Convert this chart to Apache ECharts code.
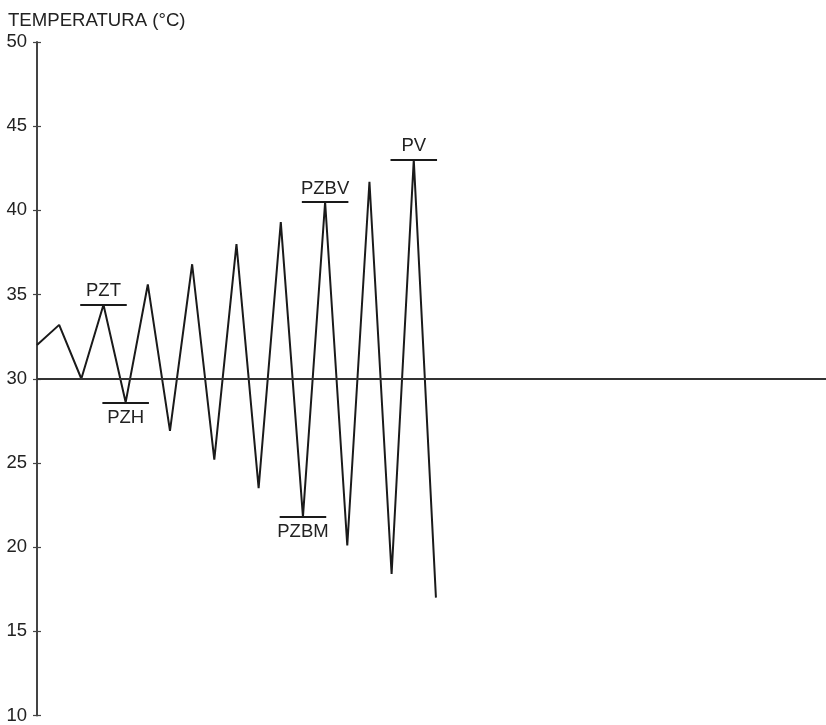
<!DOCTYPE html>
<html><head><meta charset="utf-8">
<script src="https://cdn.jsdelivr.net/npm/echarts@6/dist/echarts.min.js"></script>
<style>html,body{margin:0;padding:0;background:#fff}#c{width:826px;height:725px}</style>
</head><body><div id="c"></div>
<script>
// measurement index (0..18) and temperature (°C)
const steps = [0,1,2,3,4,5,6,7,8,9,10,11,12,13,14,15,16,17,18];
const temps = [32.0,33.2,30.0,34.4,28.6,35.6,26.9,36.8,25.2,38.0,23.5,39.3,21.8,40.5,20.1,41.7,18.4,43.0,17.0];
const yTicks = [10,15,20,25,30,35,40,45,50];
const refTemp = 30;
// annotated points: label, step index, above (peak) or below (trough)
const markNames = ['PZT','PZH','PZBM','PZBV','PV'];
const markSteps = [3,4,12,13,17];
const markSide = ['top','bottom','bottom','top','top'];

const chart = echarts.init(document.getElementById('c'));
const font = '"Liberation Sans", Arial, sans-serif';
const markData = markNames.map((n,k)=>{
  const i = markSteps[k];
  const top = markSide[k]==='top';
  return [
    {coord:[i-1.05, temps[i]], label:{show:true, formatter:n, position: top?'insideMiddleTop':'insideMiddleBottom', distance: top?4:6}},
    {coord:[i+1.05, temps[i]]}
  ];
});
const yAxisBase = {
  type:'value', min:10, max:50, interval:5,
  splitLine:{show:false}
};
chart.setOption({
  animation:false,
  title:{text:'TEMPERATURA (°C)', left:3, top:6, textStyle:{fontFamily:font, fontSize:18.6, fontWeight:'normal', color:'#222'}},
  grid:{left:37, right:0, top:42, bottom:8},
  xAxis:{type:'value', min:0, max:35.6, show:false},
  yAxis:[
    Object.assign({}, yAxisBase, {
      axisLine:{show:true, lineStyle:{color:'#444', width:2}},
      axisTick:{show:true, length:4, lineStyle:{color:'#444', width:1.2}},
      axisLabel:{margin:10, fontFamily:font, fontSize:18.5, color:'#222'}
    }),
    Object.assign({}, yAxisBase, {
      position:'left',
      axisLine:{show:false},
      axisTick:{show:true, inside:true, length:4, lineStyle:{color:'#444', width:1.2}},
      axisLabel:{show:false}
    })
  ],
  series:[{
    type:'line',
    data: steps.map((s,i)=>[s, temps[i]]),
    symbol:'none',
    lineStyle:{color:'#1a1a1a', width:2},
    markLine:{
      silent:true, symbol:'none', animation:false,
      lineStyle:{color:'#1a1a1a', width:1.8, type:'solid'},
      label:{fontFamily:font, fontSize:18.5, color:'#222'},
      data: markData.concat([[{coord:[0, refTemp], label:{show:false}, lineStyle:{color:'#333', width:1.8}}, {coord:[35.6, refTemp]}]])
    }
  }]
});
</script></body></html>
